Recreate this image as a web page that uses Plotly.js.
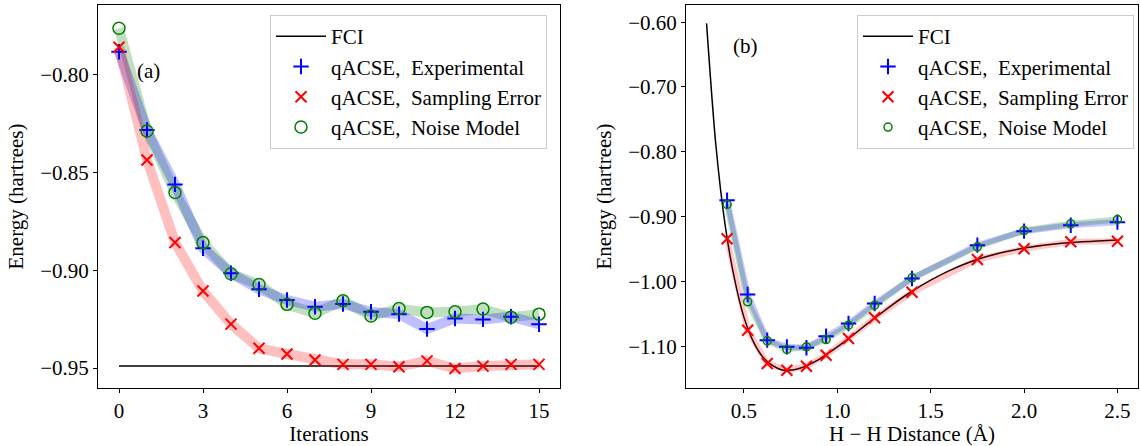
<!DOCTYPE html>
<html><head><meta charset="utf-8">
<script src="https://cdn.plot.ly/plotly-3.0.1.min.js"></script>
<style>html,body{margin:0;padding:0;background:#fff}#chart{width:1140px;height:446px}</style>
</head><body><div id="chart"></div>
<script>
// ---------- Panel (a): energy vs. qACSE iteration ----------
const iterations = [0,1,2,3,4,5,6,7,8,9,10,11,12,13,14,15];
const fciIterEnergy = -0.9490;
const experimentalIter = [-0.7881,-0.8282,-0.8560,-0.8887,-0.9015,-0.9097,-0.9152,-0.9186,-0.9172,-0.9212,-0.9224,-0.9300,-0.9246,-0.9251,-0.9237,-0.9276];
const samplingIter     = [-0.7858,-0.8435,-0.8857,-0.9106,-0.9275,-0.9399,-0.9428,-0.9459,-0.9481,-0.9481,-0.9493,-0.9463,-0.9502,-0.9490,-0.9481,-0.9481];
const noiseIter        = [-0.7761,-0.8287,-0.8602,-0.8858,-0.9017,-0.9072,-0.9174,-0.9220,-0.9155,-0.9234,-0.9195,-0.9215,-0.9212,-0.9198,-0.9240,-0.9224];

// ---------- Panel (b): energy vs. H-H distance ----------
const distFCI   = [0.30,0.35,0.40,0.45,0.50,0.55,0.60,0.65,0.70,0.74,0.80,0.90,1.00,1.10,1.20,1.30,1.40,1.50,1.60,1.70,1.80,1.90,2.00,2.20,2.50];
const energyFCI = [-0.6018,-0.7900,-0.9141,-0.9965,-1.0551,-1.0926,-1.1163,-1.1292,-1.1362,-1.1373,-1.1341,-1.1206,-1.1011,-1.0792,-1.0567,-1.0350,-1.0152,-0.9981,-0.9834,-0.9713,-0.9617,-0.9544,-0.9486,-0.9411,-0.9360];
const distPoints = [0.41,0.52,0.625,0.73,0.835,0.94,1.06,1.20,1.40,1.75,2.00,2.25,2.50];
const experimentalDist = [-0.8747,-1.0202,-1.0907,-1.1010,-1.1025,-1.0846,-1.0650,-1.0341,-0.9955,-0.9441,-0.9225,-0.9133,-0.9086];
const samplingDist     = [-0.9343,-1.0753,-1.1267,-1.1370,-1.1309,-1.1139,-1.0881,-1.0562,-1.0167,-0.9662,-0.9497,-0.9389,-0.9380];
const noiseDist        = [-0.8813,-1.0315,-1.0917,-1.1051,-1.1010,-1.0897,-1.0676,-1.0367,-0.9945,-0.9466,-0.9215,-0.9111,-0.9045];

// ---------- Labels ----------
const seriesNames = ['FCI','qACSE,\u00a0 Experimental','qACSE,\u00a0 Sampling Error','qACSE,\u00a0 Noise Model'];
const xTicksA = [0,3,6,9,12,15];
const yTicksA = [-0.80,-0.85,-0.90,-0.95];
const xTicksB = [0.5,1.0,1.5,2.0,2.5];
const yTicksB = [-0.60,-0.70,-0.80,-0.90,-1.00,-1.10];

const FONT = 'Liberation Serif, Times New Roman, serif';
const BLUE = '#0000ff', RED = '#ff0000', GREEN = '#008000';

function band(x, y, color, width, xa, ya) {
  return {x: x, y: y, xaxis: xa, yaxis: ya, mode: 'lines', showlegend: false, hoverinfo: 'skip',
          line: {color: color, width: width}};
}
function markers(x, y, name, symbol, color, size, lw, xa, ya, leg) {
  return {x: x, y: y, xaxis: xa, yaxis: ya, mode: 'markers', name: name, legend: leg, showlegend: true,
          marker: {symbol: symbol, size: size, color: color, line: {color: color, width: lw}}};
}

const data = [
  // panel (a)
  {x: [iterations[0], iterations[iterations.length-1]], y: [fciIterEnergy, fciIterEnergy], xaxis: 'x', yaxis: 'y',
   mode: 'lines', name: seriesNames[0], legend: 'legend', line: {color: '#000', width: 1.5}},
  band(iterations, noiseIter, 'rgba(0,128,0,0.25)', 10, 'x', 'y'),
  band(iterations, experimentalIter, 'rgba(0,0,255,0.25)', 10, 'x', 'y'),
  band(iterations, samplingIter, 'rgba(255,0,0,0.25)', 10, 'x', 'y'),
  markers(iterations, experimentalIter, seriesNames[1], 'cross-thin-open', BLUE, 11, 2, 'x', 'y', 'legend'),
  markers(iterations, samplingIter, seriesNames[2], 'x-thin-open', RED, 11, 2, 'x', 'y', 'legend'),
  markers(iterations, noiseIter, seriesNames[3], 'circle-open', GREEN, 12, 1.5, 'x', 'y', 'legend'),
  // panel (b)
  {x: distFCI, y: energyFCI, xaxis: 'x2', yaxis: 'y2', mode: 'lines', name: seriesNames[0], legend: 'legend2',
   line: {color: '#000', width: 1.5, shape: 'spline', smoothing: 0.8}},
  band(distPoints, noiseDist, 'rgba(0,128,0,0.25)', 6, 'x2', 'y2'),
  band(distPoints, experimentalDist, 'rgba(0,0,255,0.22)', 6, 'x2', 'y2'),
  band(distPoints, samplingDist, 'rgba(255,0,0,0.22)', 6, 'x2', 'y2'),
  markers(distPoints, experimentalDist, seriesNames[1], 'cross-thin-open', BLUE, 11, 2, 'x2', 'y2', 'legend2'),
  markers(distPoints, samplingDist, seriesNames[2], 'x-thin-open', RED, 11, 2, 'x2', 'y2', 'legend2'),
  markers(distPoints, noiseDist, seriesNames[3], 'circle-open', GREEN, 8, 1.5, 'x2', 'y2', 'legend2')
];

const axisCommon = {
  showline: true, linecolor: '#000', linewidth: 1, mirror: true, ticks: 'outside', ticklen: 4, tickwidth: 1,
  tickcolor: '#000', showgrid: false, zeroline: false, automargin: false,
  tickfont: {family: FONT, size: 21, color: '#000'}
};
const legendCommon = {
  font: {family: FONT, size: 21, color: '#000'}, bgcolor: 'rgba(255,255,255,0.8)', bordercolor: '#cccccc',
  borderwidth: 1, xanchor: 'left', yanchor: 'top', itemwidth: 50, tracegroupgap: 0
};

const layout = {
  width: 1140, height: 446, margin: {l: 0, r: 0, t: 5, b: 58}, paper_bgcolor: '#fff', plot_bgcolor: '#fff',
  showlegend: true,
  xaxis: Object.assign({}, axisCommon, {domain: [98/1140, 560/1140], range: [-0.75, 15.75], tickvals: xTicksA,
    ticktext: xTicksA.map(String), title: {text: 'Iterations', font: {family: FONT, size: 21, color: '#000'}, standoff: 6}}),
  yaxis: Object.assign({}, axisCommon, {domain: [0, 1], range: [-0.9602, -0.7642], tickvals: yTicksA, tickformat: '.2f',
    title: {text: 'Energy (hartrees)', font: {family: FONT, size: 21, color: '#000'}, standoff: 10}}),
  xaxis2: Object.assign({}, axisCommon, {domain: [686/1140, 1138/1140], range: [0.19, 2.61], tickvals: xTicksB, tickformat: '.1f',
    anchor: 'y2', title: {text: 'H \u2212 H Distance (\u00c5)', font: {family: FONT, size: 21, color: '#000'}, standoff: 6}}),
  yaxis2: Object.assign({}, axisCommon, {domain: [0, 1], range: [-1.1645, -0.5735], tickvals: yTicksB, tickformat: '.2f',
    anchor: 'x2', title: {text: 'Energy (hartrees)', font: {family: FONT, size: 21, color: '#000'}, standoff: 10}}),
  legend: Object.assign({}, legendCommon, {x: 270/1140, y: (388-15)/383}),
  legend2: Object.assign({}, legendCommon, {x: 857/1140, y: (388-15)/383}),
  annotations: [
    {xref: 'x', yref: 'y', x: 1.05, y: -0.798, text: '(a)', showarrow: false, font: {family: FONT, size: 21, color: '#000'}},
    {xref: 'x2', yref: 'y2', x: 0.51, y: -0.637, text: '(b)', showarrow: false, font: {family: FONT, size: 21, color: '#000'}}
  ]
};

Plotly.newPlot('chart', data, layout, {displayModeBar: false, staticPlot: true});
</script></body></html>
